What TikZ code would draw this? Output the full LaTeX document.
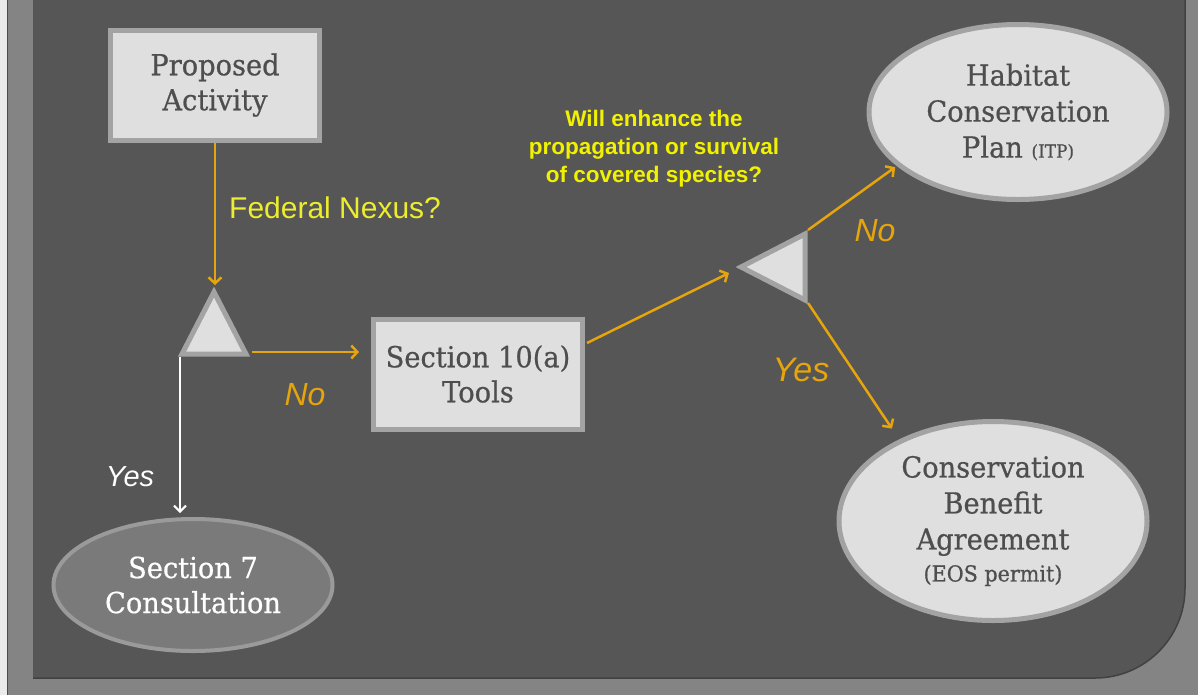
\documentclass[tikz,border=0pt]{standalone}
\usepackage{fontspec}
\setmainfont{Liberation Sans}
\newfontfamily\slab[FakeStretch=0.94,FakeBold=0.6]{DejaVu Serif}
\usetikzlibrary{shapes.geometric,arrows.meta,calc}
\definecolor{frame}{HTML}{848484}
\definecolor{panel}{HTML}{565656}
\definecolor{boxfill}{HTML}{DFDFDF}
\definecolor{boxline}{HTML}{A3A3A3}
\definecolor{txt}{HTML}{4E4E4E}
\definecolor{orng}{HTML}{E6A50C}
\definecolor{ylw}{HTML}{EDED2E}
\definecolor{qylw}{HTML}{F2F200}
\definecolor{sevfill}{HTML}{7A7A7A}
\definecolor{sevline}{HTML}{9A9A9A}
\begin{document}
\begin{tikzpicture}[x=1pt,y=-1pt,
  sbox/.style={rectangle, fill=boxfill, draw=boxline, line width=5pt,
    minimum width=209pt, minimum height=110pt, inner sep=0pt, align=center,
    text=txt, font=\slab\fontsize{29}{35}\selectfont},
  sell/.style={ellipse, fill=boxfill, draw=boxline, line width=5pt,
    inner sep=0pt, align=center, text=txt, font=\slab\fontsize{29}{36}\selectfont},
  tri/.style={fill=boxfill, draw=boxline, line width=5pt, line join=miter},
  arr/.style={draw=orng, line width=2.5pt, -{Straight Barb[length=6pt,width=13pt]}},
  warr/.style={draw=white, line width=2pt, -{Straight Barb[length=6pt,width=12pt]}},
  yn/.style={font=\fontsize{32}{32}\selectfont\itshape, inner sep=0pt},
  qtext/.style={font=\bfseries\fontsize{22.5}{28}\selectfont, text=qylw, align=center, inner sep=0pt}
]
\useasboundingbox (0,0) rectangle (1198,694);
% background
\fill[frame] (-5,-5) rectangle (1203,699);
\fill[white!92!black] (-5,-5) rectangle (7,699);
\draw[black!70, line width=1pt] (7.5,-5) -- (7.5,699);
\fill[panel] (33,-5) -- (1185,-5) -- (1185,588) arc[start angle=0, end angle=90, radius=90] -- (33,678) -- cycle;
\draw[black!25!panel, line width=1.5pt] (1185,-5) -- (1185,588) arc[start angle=0, end angle=90, radius=90] -- (33,678);

% nodes
\node[sbox] (pa) at (215,85) {Proposed\\Activity};
\node[sbox] (s10) at (478,374) {Section 10(a)\\Tools};
\node[sell, minimum width=298pt, minimum height=175pt] (hcp) at (1018,112)
  {Habitat\\Conservation\\Plan {\fontsize{18}{18}\selectfont(ITP)}};
\node[sell, minimum width=308pt, minimum height=199pt] (cba) at (993,521)
  {Conservation\\Benefit\\Agreement\\[-4pt]{\fontsize{22}{22}\selectfont(EOS permit)}};
\node[ellipse, fill=sevfill, draw=sevline, line width=4pt, inner sep=0pt,
  minimum width=279pt, minimum height=132pt, align=center, text=white,
  font=\slab\fontsize{29}{35}\selectfont] (s7) at (193,585) {Section 7\\Consultation};

% triangles
\coordinate (t1a) at (214,292);
\coordinate (t1l) at (182,354);
\coordinate (t1r) at (246,354);
\filldraw[tri] (t1a) -- (t1l) -- (t1r) -- cycle;
\coordinate (t2a) at (741,267);
\coordinate (t2u) at (805,234);
\coordinate (t2d) at (805,300);
\filldraw[tri] (t2a) -- (t2u) -- (t2d) -- cycle;

% connectors
\draw[arr, shorten >=7pt] (pa.south) -- (pa.south |- t1a);
\draw[arr] ($(t1r)+(6,-2)$) -- ($(s10.west)+(-12,-22)$);
\draw[arr] ($(s10.east)+(2,-31)$) -- ($(t2a)+(-12,6)$);
\draw[arr, shorten >=2pt] ($(t2u)+(3,-4)$) -- (hcp.204);
\draw[arr, shorten >=13pt] ($(t2d)+(3,3)$) -- (cba.139);
\coordinate (wstart) at ($(t1l)+(-2,3)$);
\draw[warr, shorten >=4pt] (wstart) -- (wstart |- s7.north);

% labels
\node[anchor=west, text=ylw, font=\fontsize{30}{30}\selectfont, inner sep=0pt] (fn) at (229,208) {Federal Nexus?};
\node[qtext] (qq) at (654,149) {Will enhance the\\propagation or survival\\of covered species?};
\node[yn, text=orng] (no1) at (305,395) {No};
\node[yn, text=orng] (no2) at (875,231) {No};
\node[yn, text=orng, font=\fontsize{34}{34}\selectfont\itshape] (yes2) at (801,370) {Yes};
\node[yn, text=white, font=\fontsize{29}{29}\selectfont\itshape] (yes1) at (130,477) {Yes};
\end{tikzpicture}
\end{document}
